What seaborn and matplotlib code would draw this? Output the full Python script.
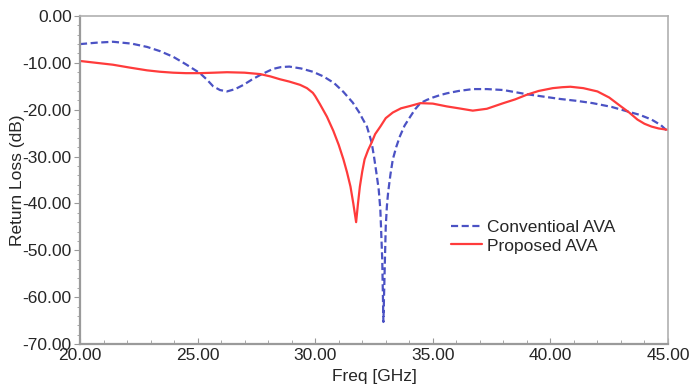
import numpy as np
import pandas as pd
import matplotlib
matplotlib.use("Agg")
import matplotlib.pyplot as plt
from matplotlib.ticker import MultipleLocator, FormatStrFormatter
import seaborn as sns

# Conventional antipodal Vivaldi antenna: frequency (GHz) and return loss (dB)
conv_freq = [20.0, 20.7, 21.4, 22.2, 22.85, 23.4, 23.96, 24.5, 25.1, 25.4,
             25.66, 25.95, 26.25, 26.6, 26.95, 27.3, 27.66, 28.2, 28.55, 28.9,
             29.4, 29.9, 30.35, 30.8, 31.2, 31.6, 31.9, 32.0, 32.2, 32.4,
             32.5, 32.6, 32.7, 32.77, 32.85, 32.9, 32.95, 33.0, 33.05, 33.1,
             33.2, 33.3, 33.45, 33.6, 33.8, 34.04, 34.25, 34.47, 34.75, 35.0,
             35.3, 35.6, 36.1, 36.7, 37.3, 38.0, 39.0, 40.4, 41.1, 41.8,
             42.6, 43.3, 43.8, 44.3, 44.7, 45.0]
conv_rl = [-6.0, -5.7, -5.5, -5.9, -6.6, -7.5, -8.7, -10.3, -12.2, -13.6,
           -15.0, -15.8, -16.1, -15.6, -14.7, -13.6, -12.6, -11.3, -10.9, -10.8,
           -11.2, -11.9, -12.9, -14.3, -16.2, -18.5, -20.8, -21.8, -23.6, -27.0,
           -30.0, -33.4, -37.0, -41.3, -51.9, -65.3, -55.0, -44.9, -40.5, -37.7,
           -33.8, -30.6, -27.9, -25.7, -23.4, -21.5, -19.9, -18.6, -17.9, -17.4,
           -16.9, -16.5, -16.0, -15.6, -15.6, -15.8, -16.7, -17.7, -18.1, -18.6,
           -19.4, -20.4, -21.1, -22.1, -23.3, -24.7]

# Proposed antipodal Vivaldi antenna
prop_freq = [20.0, 20.7, 21.4, 22.1, 22.85, 23.4, 23.96, 24.5, 25.1, 25.7,
             26.25, 27.0, 27.66, 28.1, 28.5, 28.9, 29.36, 29.65, 29.9, 30.0,
             30.2, 30.5, 30.77, 31.0, 31.2, 31.35, 31.5, 31.62, 31.74, 31.82,
             31.9, 32.0, 32.1, 32.25, 32.4, 32.55, 32.77, 33.0, 33.3, 33.65,
             34.04, 34.47, 35.0, 35.6, 36.1, 36.7, 37.3, 38.0, 38.5, 39.0,
             39.5, 40.1, 40.5, 40.85, 41.4, 42.0, 42.5, 43.0, 43.35, 43.7,
             44.0, 44.3, 44.6, 45.0]
prop_rl = [-9.6, -10.0, -10.4, -11.0, -11.6, -11.9, -12.1, -12.2, -12.2, -12.1,
           -12.0, -12.1, -12.4, -12.9, -13.5, -14.0, -14.7, -15.4, -16.4, -17.1,
           -18.8, -21.5, -24.5, -27.5, -30.6, -33.3, -36.4, -40.0, -44.0, -40.0,
           -36.4, -33.2, -30.6, -28.6, -27.0, -25.2, -23.6, -21.8, -20.6, -19.7,
           -19.2, -18.6, -18.7, -19.3, -19.7, -20.2, -19.8, -18.6, -17.8, -16.8,
           -16.0, -15.4, -15.2, -15.1, -15.4, -16.1, -17.4, -19.3, -20.6, -22.1,
           -23.0, -23.6, -24.0, -24.3]

series_names = ["Conventioal AVA", "Proposed AVA"]

sns.set_style("white")
plt.rcParams["font.family"] = ["Liberation Sans", "DejaVu Sans"]

fig = plt.figure(figsize=(6.92, 3.88), dpi=100)
ax = fig.add_axes([0.1156, 0.1134, 0.8497, 0.8454])

sns.lineplot(x=conv_freq, y=conv_rl, ax=ax, color="#4b52c4", lw=1.6,
             linestyle=(0, (3.2, 1.6)), label=series_names[0], estimator=None, sort=False)
sns.lineplot(x=prop_freq, y=prop_rl, ax=ax, color="#ff3b3b", lw=1.6,
             label=series_names[1], estimator=None, sort=False)

ax.set_xlim(20, 45)
ax.set_ylim(-70, 0)
ax.xaxis.set_major_locator(MultipleLocator(5))
ax.xaxis.set_minor_locator(MultipleLocator(1))
ax.yaxis.set_major_locator(MultipleLocator(10))
ax.yaxis.set_minor_locator(MultipleLocator(2))
ax.xaxis.set_major_formatter(FormatStrFormatter("%.2f"))
ax.yaxis.set_major_formatter(FormatStrFormatter("%.2f"))

ax.tick_params(axis="x", which="both", direction="in", color="#999999",
               labelsize=12.5, pad=3, bottom=True)
ax.tick_params(axis="x", which="major", length=4)
ax.tick_params(axis="x", which="minor", length=3)
ax.tick_params(axis="y", which="both", direction="out", color="#999999",
               labelsize=12.5, pad=2, left=True)
ax.tick_params(axis="y", which="major", length=4)
ax.tick_params(axis="y", which="minor", length=2.5)

for side in ["left", "bottom"]:
    ax.spines[side].set_color("#9a9a9a")
    ax.spines[side].set_linewidth(1.6)
for side in ["top", "right"]:
    ax.spines[side].set_color("#b0b0b0")
    ax.spines[side].set_linewidth(1.2)

ax.set_xlabel("Freq [GHz]", fontsize=12.5, labelpad=4)
ax.set_ylabel("Return Loss (dB)", fontsize=12.5, labelpad=-2)

ax.legend(loc="upper left", bbox_to_anchor=(0.62, 0.40), frameon=False,
          fontsize=12.5, handlelength=1.75, handletextpad=0.3, labelspacing=0.2,
          borderaxespad=0)

fig.savefig("out.png", dpi=100)
